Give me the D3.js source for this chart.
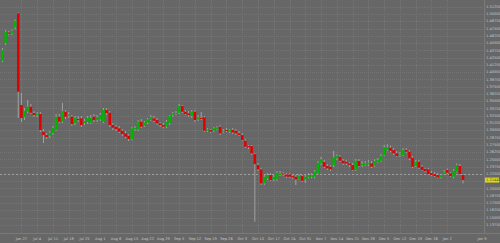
<!DOCTYPE html>
<html>
<head>
<meta charset="utf-8">
<script src="https://cdn.jsdelivr.net/npm/d3@7"></script>
<style>
  html, body { margin: 0; padding: 0; background: #676767; }
  svg { display: block; }
</style>
</head>
<body>
<svg id="chart" width="500" height="243"></svg>
<script>
// daily candles, first and last trading day shown
var firstDay = new Date(2016, 5, 17);
var lastDay = new Date(2017, 0, 9);

var opens = [
  1.4196, 1.4495, 1.4681, 1.4660, 1.4771, 1.5011, 1.3434, 1.3223, 1.3319, 1.3405,
  1.3296, 1.3262, 1.3279, 1.2975, 1.2918, 1.2906, 1.2952, 1.3004, 1.3233, 1.3147,
  1.3319, 1.3245, 1.3233, 1.3124, 1.3193, 1.3205, 1.3124, 1.3142, 1.3130, 1.3233,
  1.3176, 1.3188, 1.3147, 1.3348, 1.3302, 1.3090, 1.3061, 1.3033, 1.2992, 1.2947,
  1.2906, 1.2849, 1.3021, 1.3016, 1.3147, 1.3078, 1.3130, 1.3176, 1.3205, 1.3176,
  1.3119, 1.3090, 1.3061, 1.3119, 1.3262, 1.3288, 1.3302, 1.3417, 1.3319, 1.3291,
  1.3245, 1.3319, 1.3188, 1.3211, 1.3223, 1.2992, 1.3004, 1.2992, 1.3016, 1.3061,
  1.2982, 1.3004, 1.2975, 1.3004, 1.2992, 1.2947, 1.2918, 1.2820, 1.2729, 1.2729,
  1.2591, 1.2402, 1.2328, 1.2087, 1.2173, 1.2230, 1.2156, 1.2156, 1.2230, 1.2256,
  1.2239, 1.2242, 1.2213, 1.2201, 1.2156, 1.2213, 1.2156, 1.2190, 1.2201, 1.2201,
  1.2259, 1.2431, 1.2454, 1.2385, 1.2373, 1.2402, 1.2517, 1.2545, 1.2476, 1.2459,
  1.2431, 1.2402, 1.2316, 1.2471, 1.2402, 1.2402, 1.2414, 1.2431, 1.2385, 1.2449,
  1.2476, 1.2574, 1.2660, 1.2700, 1.2660, 1.2603, 1.2574, 1.2574, 1.2660, 1.2631,
  1.2528, 1.2385, 1.2459, 1.2373, 1.2334, 1.2328, 1.2264, 1.2247, 1.2230, 1.2190,
  1.2247, 1.2316, 1.2259, 1.2201, 1.2287, 1.2385, 1.2230
];
var highs = [
  1.4415, 1.4724, 1.4707, 1.4733, 1.4905, 1.5025, 1.3640, 1.3383, 1.3520, 1.3451,
  1.3331, 1.3314, 1.3314, 1.3021, 1.2952, 1.2987, 1.3073, 1.3279, 1.3279, 1.3468,
  1.3348, 1.3314, 1.3262, 1.3245, 1.3245, 1.3245, 1.3193, 1.3245, 1.3262, 1.3279,
  1.3262, 1.3296, 1.3383, 1.3383, 1.3331, 1.3124, 1.3090, 1.3073, 1.3021, 1.2987,
  1.2935, 1.3056, 1.3073, 1.3176, 1.3193, 1.3159, 1.3211, 1.3262, 1.3245, 1.3211,
  1.3142, 1.3124, 1.3176, 1.3262, 1.3314, 1.3331, 1.3451, 1.3434, 1.3348, 1.3331,
  1.3348, 1.3348, 1.3262, 1.3314, 1.3245, 1.3038, 1.3021, 1.3056, 1.3073, 1.3090,
  1.3021, 1.3038, 1.3021, 1.3038, 1.3021, 1.2987, 1.2952, 1.2849, 1.2746, 1.2746,
  1.2608, 1.2436, 1.2351, 1.2230, 1.2264, 1.2264, 1.2230, 1.2299, 1.2299, 1.2282,
  1.2264, 1.2264, 1.2230, 1.2230, 1.2247, 1.2230, 1.2230, 1.2264, 1.2264, 1.2316,
  1.2471, 1.2545, 1.2488, 1.2419, 1.2402, 1.2648, 1.2583, 1.2574, 1.2505, 1.2488,
  1.2454, 1.2436, 1.2505, 1.2505, 1.2471, 1.2471, 1.2488, 1.2471, 1.2505, 1.2522,
  1.2591, 1.2746, 1.2763, 1.2738, 1.2694, 1.2643, 1.2626, 1.2694, 1.2694, 1.2660,
  1.2557, 1.2488, 1.2488, 1.2402, 1.2351, 1.2351, 1.2299, 1.2282, 1.2264, 1.2247,
  1.2316, 1.2342, 1.2282, 1.2333, 1.2428, 1.2419, 1.2247
];
var lows = [
  1.4174, 1.4466, 1.4638, 1.4638, 1.4733, 1.3211, 1.3142, 1.3176, 1.3296, 1.3279,
  1.3228, 1.3228, 1.2970, 1.2780, 1.2849, 1.2866, 1.2918, 1.2987, 1.3124, 1.3124,
  1.3193, 1.3211, 1.3073, 1.3090, 1.3142, 1.3056, 1.3090, 1.3107, 1.3107, 1.3142,
  1.3142, 1.3159, 1.3124, 1.3262, 1.3056, 1.3004, 1.2987, 1.2952, 1.2901, 1.2866,
  1.2815, 1.2832, 1.2987, 1.2987, 1.3038, 1.3056, 1.3107, 1.3159, 1.3142, 1.3090,
  1.3056, 1.3038, 1.3038, 1.3090, 1.3228, 1.3262, 1.3279, 1.3296, 1.3262, 1.3228,
  1.3211, 1.3142, 1.3159, 1.3176, 1.2970, 1.2970, 1.2952, 1.2970, 1.3004, 1.2918,
  1.2952, 1.2970, 1.2952, 1.2935, 1.2918, 1.2901, 1.2815, 1.2694, 1.2677, 1.2574,
  1.1427, 1.2299, 1.2058, 1.2058, 1.2144, 1.2127, 1.2127, 1.2127, 1.2213, 1.2213,
  1.2178, 1.2178, 1.2161, 1.2058, 1.2144, 1.2110, 1.2092, 1.2173, 1.2173, 1.2173,
  1.2247, 1.2402, 1.2351, 1.2316, 1.2299, 1.2368, 1.2488, 1.2454, 1.2402, 1.2402,
  1.2368, 1.2299, 1.2299, 1.2368, 1.2368, 1.2385, 1.2385, 1.2351, 1.2368, 1.2436,
  1.2454, 1.2557, 1.2643, 1.2626, 1.2574, 1.2540, 1.2540, 1.2557, 1.2608, 1.2488,
  1.2351, 1.2368, 1.2334, 1.2299, 1.2282, 1.2230, 1.2213, 1.2196, 1.2173, 1.2170,
  1.2230, 1.2247, 1.2196, 1.2173, 1.2273, 1.2230, 1.2087
];
var closes = [
  1.4380, 1.4695, 1.4660, 1.4712, 1.4879, 1.3663, 1.3211, 1.3336, 1.3405, 1.3302,
  1.3262, 1.3279, 1.3004, 1.2918, 1.2884, 1.2952, 1.3038, 1.3233, 1.3147, 1.3331,
  1.3233, 1.3270, 1.3107, 1.3211, 1.3176, 1.3090, 1.3159, 1.3211, 1.3211, 1.3176,
  1.3228, 1.3262, 1.3348, 1.3296, 1.3090, 1.3044, 1.3021, 1.2975, 1.2935, 1.2889,
  1.2849, 1.3033, 1.3038, 1.3147, 1.3061, 1.3136, 1.3188, 1.3223, 1.3164, 1.3119,
  1.3090, 1.3061, 1.3147, 1.3245, 1.3291, 1.3296, 1.3417, 1.3319, 1.3279, 1.3262,
  1.3319, 1.3176, 1.3223, 1.3202, 1.2992, 1.3016, 1.2975, 1.3033, 1.3051, 1.2947,
  1.2992, 1.2996, 1.3004, 1.2964, 1.2947, 1.2918, 1.2832, 1.2717, 1.2707, 1.2603,
  1.2419, 1.2328, 1.2087, 1.2201, 1.2230, 1.2144, 1.2201, 1.2270, 1.2259, 1.2239,
  1.2204, 1.2201, 1.2190, 1.2156, 1.2213, 1.2132, 1.2201, 1.2230, 1.2230, 1.2287,
  1.2442, 1.2500, 1.2373, 1.2345, 1.2328, 1.2534, 1.2557, 1.2476, 1.2431, 1.2431,
  1.2402, 1.2316, 1.2476, 1.2385, 1.2419, 1.2428, 1.2442, 1.2373, 1.2471, 1.2488,
  1.2557, 1.2707, 1.2707, 1.2648, 1.2603, 1.2557, 1.2583, 1.2660, 1.2631, 1.2517,
  1.2373, 1.2459, 1.2356, 1.2316, 1.2299, 1.2247, 1.2230, 1.2213, 1.2190, 1.2230,
  1.2287, 1.2270, 1.2213, 1.2304, 1.2402, 1.2247, 1.2144
];

// price axis: 1.13750 .. 1.51250 every 0.0125
var priceTicks = d3.range(31).map(function (i) { return +(1.1375 + i * 0.0125).toFixed(4); });
var levelLine = 1.2250;
var nextWeekLabel = 'Jan 9';

var W = 500, H = 243;
var plotRight = 484, plotBottom = 233;

var days = d3.timeDay.range(firstDay, d3.timeDay.offset(lastDay, 1))
  .filter(function (d) { return d.getDay() !== 0 && d.getDay() !== 6; });
var dateTicks = days.filter(function (d) {
  return d.getDay() === 1 && d >= new Date(2016, 5, 27) && d < lastDay;
});

var candles = days.map(function (d, i) {
  return { date: d, o: opens[i], h: highs[i], l: lows[i], c: closes[i] };
});

var x = d3.scaleBand()
  .domain(days)
  .range([0.9, 464.6])
  .paddingInner(0.2)
  .paddingOuter(0.1);

var y = d3.scaleLinear()
  .domain([1.5125, 1.1375])
  .range([6.7, 224.8]);

var svg = d3.select('#chart');

svg.append('rect')
  .attr('width', W).attr('height', H)
  .attr('fill', '#676767');

// faint dotted grid
var grid = svg.append('g')
  .attr('stroke', '#747474')
  .attr('stroke-width', 1)
  .attr('stroke-dasharray', '1,1');
grid.selectAll('line.h')
  .data(priceTicks)
  .enter().append('line')
  .attr('x1', 0).attr('x2', plotRight)
  .attr('y1', function (d) { return Math.round(y(d)) + 0.5; })
  .attr('y2', function (d) { return Math.round(y(d)) + 0.5; });
grid.selectAll('line.v')
  .data(dateTicks)
  .enter().append('line')
  .attr('y1', 0).attr('y2', plotBottom)
  .attr('x1', function (d) { return Math.round(x(d) + x.bandwidth() / 2) + 0.5; })
  .attr('x2', function (d) { return Math.round(x(d) + x.bandwidth() / 2) + 0.5; });

// horizontal level
svg.append('line')
  .attr('x1', 0).attr('x2', plotRight)
  .attr('y1', Math.round(y(levelLine)) + 0.5)
  .attr('y2', Math.round(y(levelLine)) + 0.5)
  .attr('stroke', '#a0a0a0')
  .attr('stroke-dasharray', '2,2');

// candles
var g = svg.append('g');
var cx = function (d) { return x(d.date) + x.bandwidth() / 2; };

g.selectAll('line.wick')
  .data(candles)
  .enter().append('line')
  .attr('class', 'wick')
  .attr('x1', cx).attr('x2', cx)
  .attr('y1', function (d) { return y(d.h); })
  .attr('y2', function (d) { return y(d.l); })
  .attr('stroke', '#a8a8a8')
  .attr('stroke-width', 0.9);

g.selectAll('rect.body')
  .data(candles)
  .enter().append('rect')
  .attr('class', 'body')
  .attr('x', function (d) { return x(d.date); })
  .attr('width', x.bandwidth())
  .attr('y', function (d) { return y(Math.max(d.o, d.c)); })
  .attr('height', function (d) { return Math.max(1, Math.abs(y(d.o) - y(d.c))); })
  .attr('fill', function (d) { return d.c >= d.o ? '#00b400' : '#e00000'; });

// axis lines
svg.append('line')
  .attr('x1', plotRight + 0.5).attr('x2', plotRight + 0.5)
  .attr('y1', 0).attr('y2', plotBottom)
  .attr('stroke', '#7a7a7a');
svg.append('line')
  .attr('x1', 0).attr('x2', W)
  .attr('y1', plotBottom + 0.5).attr('y2', plotBottom + 0.5)
  .attr('stroke', '#7a7a7a');

svg.append('g').selectAll('text')
  .data(priceTicks)
  .enter().append('text')
  .attr('x', plotRight + 2)
  .attr('y', function (d) { return y(d) + 1.2; })
  .attr('font-family', 'DejaVu Sans')
  .attr('font-size', 3.6)
  .attr('fill', '#c8c8c8')
  .text(d3.format('.5f'));

// current price box
var last = candles[candles.length - 1];
svg.append('rect')
  .attr('x', plotRight + 1).attr('y', y(last.c) - 2.5)
  .attr('width', 14).attr('height', 5)
  .attr('fill', '#d8d820');
svg.append('text')
  .attr('x', plotRight + 2)
  .attr('y', y(last.c) + 1.2)
  .attr('font-family', 'DejaVu Sans')
  .attr('font-size', 3.6)
  .attr('fill', '#505010')
  .text(d3.format('.5f')(last.c));

// date labels
var fmt = d3.timeFormat('%b %-d');
var dateLabels = svg.append('g')
  .attr('font-family', 'DejaVu Sans')
  .attr('font-size', 3.6)
  .attr('fill', '#c8c8c8')
  .attr('text-anchor', 'middle');
dateLabels.selectAll('text')
  .data(dateTicks)
  .enter().append('text')
  .attr('x', function (d) { return x(d) + x.bandwidth() / 2; })
  .attr('y', 239.5)
  .text(fmt);
dateLabels.append('text')
  .attr('x', plotRight - 2)
  .attr('y', 239.5)
  .text(nextWeekLabel);
</script>
</body>
</html>
